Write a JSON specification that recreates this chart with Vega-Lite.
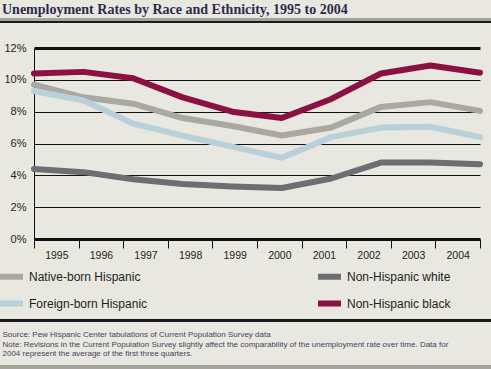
{
  "$schema": "https://vega.github.io/schema/vega-lite/v6.json",
  "autosize": {"type": "none"},
  "width": 456,
  "height": 191,
  "padding": {"left": 34, "top": 48, "right": 1, "bottom": 130},
  "background": "#e8e7e0",
  "title": {
    "text": "Unemployment Rates by Race and Ethnicity, 1995 to 2004",
    "anchor": "start",
    "frame": "group",
    "dx": -32,
    "offset": -9,
    "baseline": "alphabetic",
    "font": "Liberation Serif",
    "fontSize": 14,
    "fontWeight": "bold",
    "color": "#2d2b4a"
  },
  "config": {
    "view": {"stroke": null},
    "axisX": {
      "labelOffset": 22.3,
      "labelFlush": false,
      "labelOverlap": false,
      "labelBound": false,
      "labelAngle": 0,
      "labelFont": "Liberation Sans",
      "labelFontSize": 10.5,
      "labelColor": "#231f20",
      "labelPadding": 2,
      "titleFont": "Liberation Sans",
      "titleFontSize": 8,
      "titleFontWeight": "normal",
      "titleColor": "#45445a",
      "titleAnchor": "start",
      "titleAlign": "left",
      "titleBaseline": "alphabetic",
      "titleLineHeight": 9.6,
      "titleX": -32,
      "titleY": 97.5,
      "domain": false,
      "grid": false,
      "ticks": true,
      "tickSize": 9,
      "tickColor": "#111111",
      "tickWidth": 1
    },
    "axisY": {
      "labelOverlap": false,
      "labelFont": "Liberation Sans",
      "labelFontSize": 11,
      "labelColor": "#231f20",
      "labelPadding": 8,
      "ticks": false,
      "domain": true,
      "domainColor": "#111111",
      "domainWidth": 1,
      "grid": true,
      "gridColor": "#111111",
      "gridOpacity": 1
    },
    "legend": {
      "orient": "none",
      "legendX": -37,
      "legendY": 214,
      "columns": 2,
      "columnPadding": 158,
      "rowPadding": 0,
      "padding": 0,
      "labelFont": "Liberation Sans",
      "labelFontSize": 12,
      "labelColor": "#231f20",
      "labelOffset": 3,
      "labelLimit": 300,
      "symbolType": "stroke",
      "symbolStrokeWidth": 6,
      "symbolSize": 529,
      "title": null
    }
  },
  "data": {
    "values": [
      {"year": 1995, "group": "Native-born Hispanic", "rate": 9.7},
      {"year": 1996, "group": "Native-born Hispanic", "rate": 8.9},
      {"year": 1997, "group": "Native-born Hispanic", "rate": 8.5},
      {"year": 1998, "group": "Native-born Hispanic", "rate": 7.6},
      {"year": 1999, "group": "Native-born Hispanic", "rate": 7.1},
      {"year": 2000, "group": "Native-born Hispanic", "rate": 6.5},
      {"year": 2001, "group": "Native-born Hispanic", "rate": 7.0},
      {"year": 2002, "group": "Native-born Hispanic", "rate": 8.3},
      {"year": 2003, "group": "Native-born Hispanic", "rate": 8.6},
      {"year": 2004, "group": "Native-born Hispanic", "rate": 8.05},
      {"year": 1995, "group": "Foreign-born Hispanic", "rate": 9.3},
      {"year": 1996, "group": "Foreign-born Hispanic", "rate": 8.7},
      {"year": 1997, "group": "Foreign-born Hispanic", "rate": 7.25},
      {"year": 1998, "group": "Foreign-born Hispanic", "rate": 6.5},
      {"year": 1999, "group": "Foreign-born Hispanic", "rate": 5.8},
      {"year": 2000, "group": "Foreign-born Hispanic", "rate": 5.1},
      {"year": 2001, "group": "Foreign-born Hispanic", "rate": 6.4},
      {"year": 2002, "group": "Foreign-born Hispanic", "rate": 7.0},
      {"year": 2003, "group": "Foreign-born Hispanic", "rate": 7.05},
      {"year": 2004, "group": "Foreign-born Hispanic", "rate": 6.4},
      {"year": 1995, "group": "Non-Hispanic white", "rate": 4.4},
      {"year": 1996, "group": "Non-Hispanic white", "rate": 4.2},
      {"year": 1997, "group": "Non-Hispanic white", "rate": 3.75},
      {"year": 1998, "group": "Non-Hispanic white", "rate": 3.45},
      {"year": 1999, "group": "Non-Hispanic white", "rate": 3.3},
      {"year": 2000, "group": "Non-Hispanic white", "rate": 3.2},
      {"year": 2001, "group": "Non-Hispanic white", "rate": 3.8},
      {"year": 2002, "group": "Non-Hispanic white", "rate": 4.8},
      {"year": 2003, "group": "Non-Hispanic white", "rate": 4.8},
      {"year": 2004, "group": "Non-Hispanic white", "rate": 4.7},
      {"year": 1995, "group": "Non-Hispanic black", "rate": 10.4},
      {"year": 1996, "group": "Non-Hispanic black", "rate": 10.5},
      {"year": 1997, "group": "Non-Hispanic black", "rate": 10.1},
      {"year": 1998, "group": "Non-Hispanic black", "rate": 8.9},
      {"year": 1999, "group": "Non-Hispanic black", "rate": 8.0},
      {"year": 2000, "group": "Non-Hispanic black", "rate": 7.6},
      {"year": 2001, "group": "Non-Hispanic black", "rate": 8.8},
      {"year": 2002, "group": "Non-Hispanic black", "rate": 10.4},
      {"year": 2003, "group": "Non-Hispanic black", "rate": 10.9},
      {"year": 2004, "group": "Non-Hispanic black", "rate": 10.45}
    ]
  },
  "layer": [
    {
      "mark": {"type": "line", "strokeWidth": 6, "strokeCap": "round", "strokeJoin": "round"},
      "encoding": {
        "x": {
          "field": "year",
          "type": "quantitative",
          "scale": {"domain": [1995, 2004], "range": [0, 446], "nice": false, "zero": false},
          "axis": {
            "values": [1995, 1995.9, 1996.8, 1997.7, 1998.6, 1999.5, 2000.4, 2001.3, 2002.2, 2003.1, 2004.0],
            "labelExpr": "datum.value > 2003.95 ? '' : '' + (1995 + round((datum.value - 1995) / 0.9))",
            "title": [
              "Source: Pew Hispanic Center tabulations of Current Population Survey data",
              "Note: Revisions in the Current Population Survey slightly affect the comparability of the unemployment rate over time. Data for",
              "2004 represent the average of the first three quarters."
            ]
          }
        },
        "y": {
          "field": "rate",
          "type": "quantitative",
          "scale": {"domain": [0, 12], "nice": false},
          "axis": {
            "title": null,
            "values": [0, 2, 4, 6, 8, 10, 12],
            "labelExpr": "datum.value + '%'",
            "gridWidth": {"condition": {"test": "datum.value === 0 || datum.value === 12", "value": 3}, "value": 1}
          }
        },
        "color": {
          "field": "group",
          "type": "nominal",
          "scale": {
            "domain": ["Native-born Hispanic", "Foreign-born Hispanic", "Non-Hispanic white", "Non-Hispanic black"],
            "range": ["#a9a8a1", "#b8d0d9", "#6d6e71", "#8b1142"]
          }
        },
        "order": {"field": "year"}
      }
    },
    {
      "mark": {"type": "rule", "color": "#a5a49c", "strokeWidth": 3.2},
      "encoding": {
        "x": {"datum": 1994.33, "scale": {"domain": [1995, 2004], "range": [0, 446], "nice": false, "zero": false},
          "axis": {
            "values": [1995, 1995.9, 1996.8, 1997.7, 1998.6, 1999.5, 2000.4, 2001.3, 2002.2, 2003.1, 2004.0],
            "labelExpr": "datum.value > 2003.95 ? '' : '' + (1995 + round((datum.value - 1995) / 0.9))",
            "title": [
              "Source: Pew Hispanic Center tabulations of Current Population Survey data",
              "Note: Revisions in the Current Population Survey slightly affect the comparability of the unemployment rate over time. Data for",
              "2004 represent the average of the first three quarters."
            ]
          }},
        "x2": {"datum": 2004.23},
        "y": {"datum": 13.74, "scale": {"domain": [0, 12], "nice": false},
          "axis": {
            "title": null,
            "values": [0, 2, 4, 6, 8, 10, 12],
            "labelExpr": "datum.value + '%'",
            "gridWidth": {"condition": {"test": "datum.value === 0 || datum.value === 12", "value": 3}, "value": 1}
          }}
      }
    },
    {
      "mark": {"type": "rule", "color": "#1a1a1a", "strokeWidth": 1.3},
      "encoding": {
        "x": {"datum": 1994.33, "scale": {"domain": [1995, 2004], "range": [0, 446], "nice": false, "zero": false},
          "axis": {
            "values": [1995, 1995.9, 1996.8, 1997.7, 1998.6, 1999.5, 2000.4, 2001.3, 2002.2, 2003.1, 2004.0],
            "labelExpr": "datum.value > 2003.95 ? '' : '' + (1995 + round((datum.value - 1995) / 0.9))",
            "title": [
              "Source: Pew Hispanic Center tabulations of Current Population Survey data",
              "Note: Revisions in the Current Population Survey slightly affect the comparability of the unemployment rate over time. Data for",
              "2004 represent the average of the first three quarters."
            ]
          }},
        "x2": {"datum": 2004.23},
        "y": {"datum": 13.61, "scale": {"domain": [0, 12], "nice": false},
          "axis": {
            "title": null,
            "values": [0, 2, 4, 6, 8, 10, 12],
            "labelExpr": "datum.value + '%'",
            "gridWidth": {"condition": {"test": "datum.value === 0 || datum.value === 12", "value": 3}, "value": 1}
          }}
      }
    },
    {
      "mark": {"type": "rule", "color": "#1a1a1a", "strokeWidth": 2.2},
      "encoding": {
        "x": {"datum": 1994.314, "scale": {"domain": [1995, 2004], "range": [0, 446], "nice": false, "zero": false},
          "axis": {
            "values": [1995, 1995.9, 1996.8, 1997.7, 1998.6, 1999.5, 2000.4, 2001.3, 2002.2, 2003.1, 2004.0],
            "labelExpr": "datum.value > 2003.95 ? '' : '' + (1995 + round((datum.value - 1995) / 0.9))",
            "title": [
              "Source: Pew Hispanic Center tabulations of Current Population Survey data",
              "Note: Revisions in the Current Population Survey slightly affect the comparability of the unemployment rate over time. Data for",
              "2004 represent the average of the first three quarters."
            ]
          }},
        "x2": {"datum": 2004.23},
        "y": {"datum": -5.15, "scale": {"domain": [0, 12], "nice": false},
          "axis": {
            "title": null,
            "values": [0, 2, 4, 6, 8, 10, 12],
            "labelExpr": "datum.value + '%'",
            "gridWidth": {"condition": {"test": "datum.value === 0 || datum.value === 12", "value": 3}, "value": 1}
          }}
      }
    },
    {
      "mark": {"type": "rule", "color": "#a5a49c", "strokeWidth": 5},
      "encoding": {
        "x": {"datum": 1994.314, "scale": {"domain": [1995, 2004], "range": [0, 446], "nice": false, "zero": false},
          "axis": {
            "values": [1995, 1995.9, 1996.8, 1997.7, 1998.6, 1999.5, 2000.4, 2001.3, 2002.2, 2003.1, 2004.0],
            "labelExpr": "datum.value > 2003.95 ? '' : '' + (1995 + round((datum.value - 1995) / 0.9))",
            "title": [
              "Source: Pew Hispanic Center tabulations of Current Population Survey data",
              "Note: Revisions in the Current Population Survey slightly affect the comparability of the unemployment rate over time. Data for",
              "2004 represent the average of the first three quarters."
            ]
          }},
        "x2": {"datum": 2004.23},
        "y": {"datum": -8.08, "scale": {"domain": [0, 12], "nice": false},
          "axis": {
            "title": null,
            "values": [0, 2, 4, 6, 8, 10, 12],
            "labelExpr": "datum.value + '%'",
            "gridWidth": {"condition": {"test": "datum.value === 0 || datum.value === 12", "value": 3}, "value": 1}
          }}
      }
    }
  ]
}
